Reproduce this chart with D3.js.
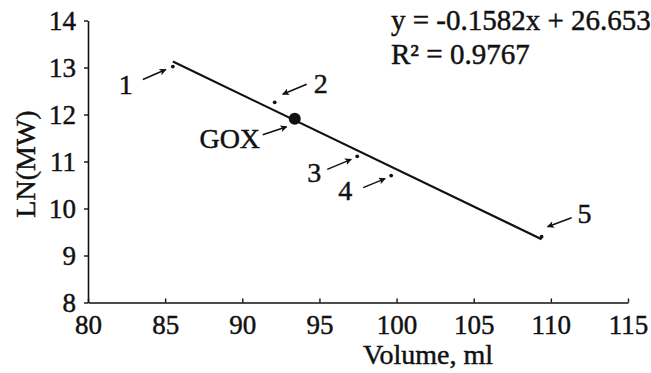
<!DOCTYPE html>
<html>
<head>
<meta charset="utf-8">
<script src="https://cdn.jsdelivr.net/npm/d3@7"></script>
<style>
  html, body { margin: 0; padding: 0; background: #fff; }
  svg text { font-family: "Liberation Serif", "Times New Roman", serif; fill: #111; stroke: #111; stroke-width: 0.45px; }
</style>
</head>
<body>
<svg id="chart" width="651" height="373"></svg>
<script>
// ---- data ----
const pointLabels = ["1", "2", "GOX", "3", "4", "5"];
const volumes = [85.5, 92.1, 93.4, 97.45, 99.65, 109.4];
const lnMW = [13.02, 12.26, 11.91, 11.11, 10.70, 9.40];
const isReference = [false, false, true, false, false, false];
const slope = -0.1582;
const intercept = 26.653;
const equationLines = ["y = -0.1582x + 26.653", "R\u00B2 = 0.9767"];
const xTicks = [80, 85, 90, 95, 100, 105, 110, 115];
const yTicks = [8, 9, 10, 11, 12, 13, 14];
const xTitle = "Volume, ml";
const yTitle = "LN(MW)";

// ---- layout ----
const FONT = "Liberation Serif, Times New Roman, serif";
const svg = d3.select("#chart");
const x = d3.scaleLinear().domain([80, 115]).range([88, 628]);
const y = d3.scaleLinear().domain([8, 14]).range([302.5, 20.5]);
const ink = "#111";

// defs: arrow marker
svg.append("defs").append("marker")
  .attr("id", "arrow").attr("viewBox", "0 0 10 10")
  .attr("refX", 9).attr("refY", 5)
  .attr("markerWidth", 7).attr("markerHeight", 7)
  .attr("markerUnits", "userSpaceOnUse")
  .attr("orient", "auto")
  .append("path").attr("d", "M0,0 L10,5 L0,10 L2.5,5 Z").attr("fill", ink);

// axes
const fmt = d3.format("d");
const xAxis = d3.axisBottom(x).tickValues(xTicks).tickFormat(fmt).tickSizeInner(-4).tickSizeOuter(0).tickPadding(12);
const yAxis = d3.axisLeft(y).tickValues(yTicks).tickFormat(fmt).tickSizeInner(4).tickSizeOuter(0).tickPadding(8);

const gx = svg.append("g").attr("transform", `translate(0,${y(8)})`).call(xAxis);
const gy = svg.append("g").attr("transform", `translate(${x(80)},0)`).call(yAxis);
[gx, gy].forEach(g => {
  g.attr("font-family", FONT).attr("font-size", 27);
  g.select(".domain").attr("stroke", ink).attr("stroke-width", 1.6);
  g.selectAll(".tick line").attr("stroke", ink).attr("stroke-width", 1.4);
  g.selectAll(".tick text").attr("fill", ink).attr("font-family", FONT).attr("font-size", 27);
});
gx.selectAll(".tick text").attr("dy", "0.71em");
gy.selectAll(".tick text").attr("dy", "0.34em");

// axis titles
svg.append("text").attr("x", 428).attr("y", 364)
  .attr("text-anchor", "middle").attr("font-size", 28).text(xTitle);
svg.append("text").attr("transform", `translate(35,164) rotate(-90)`)
  .attr("text-anchor", "middle").attr("font-size", 28).text(yTitle);

// trend line
const xMin = d3.min(volumes), xMax = d3.max(volumes);
svg.append("line")
  .attr("x1", x(xMin)).attr("y1", y(slope * xMin + intercept))
  .attr("x2", x(xMax)).attr("y2", y(slope * xMax + intercept))
  .attr("stroke", ink).attr("stroke-width", 2.2);

// points
const pts = volumes.map((v, i) => ({ v, m: lnMW[i], label: pointLabels[i], ref: isReference[i] }));
svg.selectAll("circle.pt").data(pts).enter().append("circle")
  .attr("class", "pt")
  .attr("cx", d => x(d.v)).attr("cy", d => y(d.m))
  .attr("r", d => d.ref ? 6 : 1.9)
  .attr("fill", ink);

// annotation arrows + labels (offsets relative to each point, in px)
const annot = {
  "1":   { from: [-30, 13], to: [-7, 3],  text: [-47, 27] },
  "2":   { from: [32, -18], to: [8, -8],  text: [46, -9] },
  "GOX": { from: [-32, 16], to: [-8, 8],  text: [-65, 29] },
  "3":   { from: [-30, 13], to: [-6, 3],  text: [-43, 26] },
  "4":   { from: [-28, 12], to: [-6, 3],  text: [-46, 24] },
  "5":   { from: [30, -19], to: [6, -10], text: [43, -14] }
};
pts.forEach(d => {
  const a = annot[d.label];
  const px = x(d.v), py = y(d.m);
  svg.append("line")
    .attr("x1", px + a.from[0]).attr("y1", py + a.from[1])
    .attr("x2", px + a.to[0]).attr("y2", py + a.to[1])
    .attr("stroke", ink).attr("stroke-width", 1.5)
    .attr("marker-end", "url(#arrow)");
  svg.append("text")
    .attr("x", px + a.text[0]).attr("y", py + a.text[1])
    .attr("text-anchor", "middle")
    .attr("font-size", 28)
    .text(d.label);
});

// equation
svg.selectAll("text.eq").data(equationLines).enter().append("text")
  .attr("class", "eq")
  .attr("x", 391).attr("y", (d, i) => 30 + i * 34)
  .attr("font-size", 29)
  .text(d => d);
</script>
</body>
</html>
